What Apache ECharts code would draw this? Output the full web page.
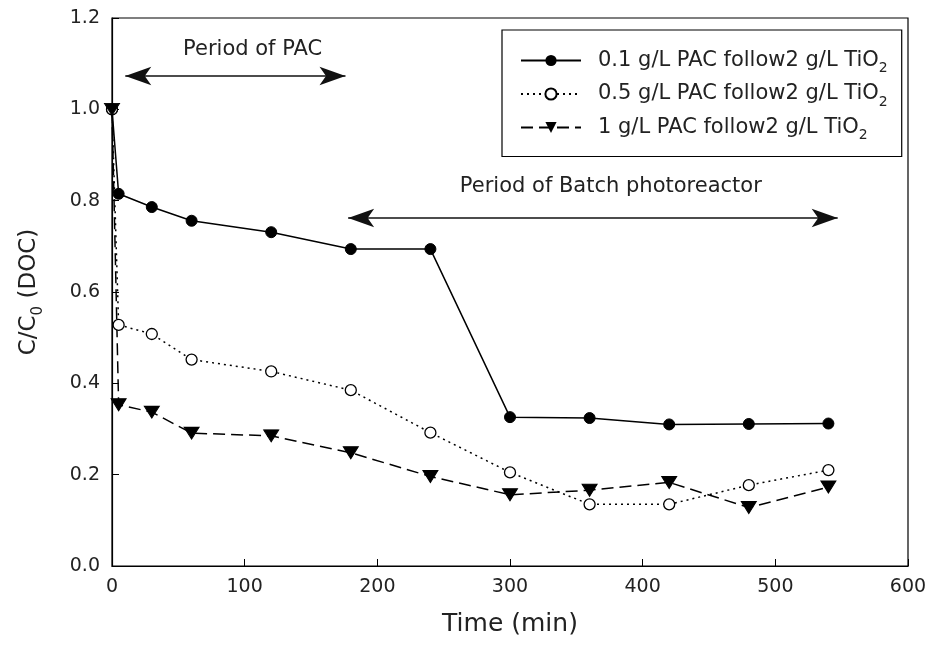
<!DOCTYPE html>
<html>
<head>
<meta charset="utf-8">
<script src="https://cdn.jsdelivr.net/npm/echarts@6/dist/echarts.min.js"></script>
<style>html,body{margin:0;padding:0;background:#fff}#c{width:933px;height:652px}</style>
</head>
<body>
<div id="c"></div>
<script>
// ---- data ----
const times = [0, 5, 30, 60, 120, 180, 240, 300, 360, 420, 480, 540];
const pac01 = [1.0, 0.815, 0.786, 0.756, 0.731, 0.694, 0.694, 0.326, 0.324, 0.310, 0.311, 0.312];
const pac05 = [1.0, 0.528, 0.508, 0.452, 0.426, 0.385, 0.292, 0.205, 0.135, 0.135, 0.177, 0.210];
const pac1  = [1.0, 0.353, 0.337, 0.291, 0.285, 0.248, 0.196, 0.156, 0.166, 0.183, 0.128, 0.173];
const seriesNames = ['0.1 g/L PAC follow2 g/L TiO2', '0.5 g/L PAC follow2 g/L TiO2', '1 g/L PAC follow2 g/L TiO2'];
const xTicks = [0, 100, 200, 300, 400, 500, 600];
const yTicks = [0.0, 0.2, 0.4, 0.6, 0.8, 1.0, 1.2];
// annotation arrows: [x1, x2, y] and labels [text, x, y]
const pacArrow = [10, 176, 1.073];
const batchArrow = [178, 547, 0.762];
const pacLabel = ['Period of PAC', 106, 1.13];
const batchLabel = ['Period of Batch photoreactor', 376, 0.832];

const pairs = arr => times.map((t, i) => [t, arr[i]]);
const wide = '"DejaVu Sans", Verdana, sans-serif';
const ink = '#222';

const chart = echarts.init(document.getElementById('c'), null, {renderer: 'canvas'});
chart.setOption({
  animation: false,
  backgroundColor: '#fff',
  grid: {left: 112, right: 25, top: 18, bottom: 86, show: true, borderColor: '#000', borderWidth: 1.2, backgroundColor: 'transparent'},
  xAxis: {
    type: 'value', min: xTicks[0], max: xTicks[xTicks.length - 1], interval: 100,
    name: 'Time (min)', nameLocation: 'middle', nameGap: 46,
    nameTextStyle: {fontFamily: wide, fontSize: 25, color: ink},
    axisLine: {lineStyle: {color: '#000', width: 1.2}},
    axisTick: {inside: true, length: 7, lineStyle: {color: '#000'}},
    axisLabel: {fontFamily: wide, fontSize: 19, color: ink, margin: 12},
    splitLine: {show: false}
  },
  yAxis: {
    type: 'value', min: yTicks[0], max: yTicks[yTicks.length - 1], interval: 0.2,
    name: '{n|C/C}{s|0}{n| (DOC)}', nameLocation: 'middle', nameGap: 66, nameRotate: 90,
    nameTextStyle: {fontFamily: wide, fontSize: 23, color: ink,
      rich: {n: {fontFamily: wide, fontSize: 23, color: ink, lineHeight: 26},
             s: {fontFamily: wide, fontSize: 15, color: ink, verticalAlign: 'bottom', lineHeight: 34}}},
    axisLine: {lineStyle: {color: '#000', width: 1.2}},
    axisTick: {inside: true, length: 7, lineStyle: {color: '#000'}},
    axisLabel: {fontFamily: wide, fontSize: 19, color: ink, margin: 12, formatter: v => v.toFixed(1)},
    splitLine: {show: false}
  },
  legend: {
    orient: 'vertical', left: 502, top: 30,
    padding: [20, 14, 14, 18], itemGap: 8, itemWidth: 60, itemHeight: 14,
    borderColor: '#000', borderWidth: 1.2, backgroundColor: '#fff',
    data: seriesNames,
    formatter: n => '{n|' + n.replace(/TiO2$/, 'TiO') + '}{s|2}',
    textStyle: {fontFamily: wide, fontSize: 21, color: ink, padding: [0, 0, 0, 12],
      rich: {n: {fontFamily: wide, fontSize: 21, color: ink, lineHeight: 24},
             s: {fontFamily: wide, fontSize: 14, color: ink, verticalAlign: 'bottom', lineHeight: 30}}}
  },
  series: [
    {
      name: seriesNames[0], type: 'line', data: pairs(pac01),
      symbol: 'circle', symbolSize: 11,
      lineStyle: {color: '#000', width: 1.5, type: 'solid'},
      itemStyle: {color: '#000', borderColor: '#000'},
      z: 3
    },
    {
      name: seriesNames[1], type: 'line', data: pairs(pac05),
      symbol: 'circle', symbolSize: 11,
      lineStyle: {color: '#000', width: 1.5, type: [2, 4]},
      itemStyle: {color: '#fff', borderColor: '#000', borderWidth: 1.3},
      z: 3
    },
    {
      name: seriesNames[2], type: 'line', data: pairs(pac1),
      symbol: 'triangle', symbolSize: [15, 12], symbolRotate: 180,
      lineStyle: {color: '#000', width: 1.5, type: [12, 6]},
      itemStyle: {color: '#000', borderColor: '#000'},
      z: 3
    },
    {
      name: 'annotations', type: 'line', data: [], silent: true,
      markLine: {
        silent: true, symbol: ['arrow', 'arrow'], symbolSize: [14, 26],
        lineStyle: {color: '#111', width: 1.5, type: 'solid'},
        label: {show: false},
        data: [
          [{coord: [pacArrow[0], pacArrow[2]]}, {coord: [pacArrow[1], pacArrow[2]]}],
          [{coord: [batchArrow[0], batchArrow[2]]}, {coord: [batchArrow[1], batchArrow[2]]}]
        ]
      },
      markPoint: {
        silent: true, symbol: 'circle', symbolSize: 0,
        label: {show: true, position: 'inside', fontFamily: wide, fontSize: 21, color: ink},
        data: [
          {coord: [pacLabel[1], pacLabel[2]], label: {formatter: pacLabel[0]}},
          {coord: [batchLabel[1], batchLabel[2]], label: {formatter: batchLabel[0]}}
        ]
      }
    }
  ]
});
</script>
</body>
</html>
